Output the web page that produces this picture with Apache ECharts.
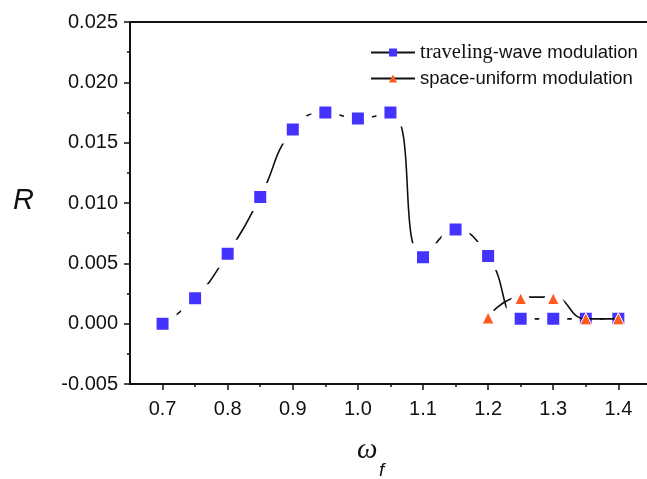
<!DOCTYPE html>
<html><head><meta charset="utf-8">
<script src="https://cdn.jsdelivr.net/npm/echarts@6/dist/echarts.min.js"></script>
<style>html,body{margin:0;padding:0;background:#fff}#c{width:647px;height:479px}</style>
</head><body><div id="c"></div>
<script>
// ---- data ----
const omegaTW = [0.70, 0.75, 0.80, 0.85, 0.90, 0.95, 1.00, 1.05, 1.10, 1.15, 1.20, 1.25, 1.30, 1.35, 1.40];
const travelingWave = [0.0000, 0.0021, 0.0058, 0.0105, 0.0161, 0.0175, 0.0170, 0.0175, 0.0055, 0.0078, 0.0056, 0.0004, 0.0004, 0.0004, 0.0004];
const omegaSU = [1.20, 1.25, 1.30, 1.35, 1.40];
const spaceUniform = [0.0006, 0.0022, 0.0022, 0.0004, 0.0004];
const xMajorTicks = [0.7, 0.8, 0.9, 1.0, 1.1, 1.2, 1.3, 1.4];
const xMinorTicks = [0.75, 0.85, 0.95, 1.05, 1.15, 1.25, 1.35];
const seriesNames = ['traveling-wave modulation', 'space-uniform modulation'];

const BLUE = '#4433ff', ORANGE = '#ff5a1f', INK = '#111';
const X_MIN = 0.65, X_MAX = 1.444;
const twData = omegaTW.map((x, i) => [x, travelingWave[i]]);
const suData = omegaSU.map((x, i) => {
  const j = omegaTW.findIndex(v => Math.abs(v - x) < 1e-9);
  const overlap = j >= 0 && Math.abs(travelingWave[j] - spaceUniform[i]) < 0.0003;
  return overlap ? { value: [x, spaceUniform[i]], symbolSize: 12, itemStyle: { borderWidth: 1 } } : [x, spaceUniform[i]];
});

const chart = echarts.init(document.getElementById('c'), null, { renderer: 'canvas' });
const axisFont = { fontFamily: 'Liberation Sans', fontSize: 20, color: INK };
chart.setOption({
  animation: false,
  backgroundColor: '#fff',
  grid: { left: 130, top: 22, right: 0, height: 362, show: false },
  legend: {
    orient: 'vertical', left: 365, top: 37, itemWidth: 44, itemHeight: 10, itemGap: 6,
    data: seriesNames,
    itemStyle: { borderWidth: 0 },
    formatter: n => n === seriesNames[0] ? '{serif|traveling}{sans|-wave modulation}' : '{sans|' + n + '}',
    textStyle: {
      color: INK, fontSize: 18.5, lineHeight: 18,
      rich: {
        serif: { fontFamily: 'Liberation Serif', fontSize: 20.5, color: INK, lineHeight: 18 },
        sans: { fontFamily: 'Liberation Sans', fontSize: 18.5, color: INK, lineHeight: 18 }
      }
    }
  },
  xAxis: [{
    type: 'value', min: X_MIN, max: X_MAX, position: 'bottom',
    axisLine: { show: true, onZero: false, lineStyle: { color: INK, width: 2 } },
    axisTick: { show: true, length: 6, customValues: xMajorTicks, lineStyle: { color: INK, width: 1.5 } },
    axisLabel: Object.assign({ margin: 15, customValues: xMajorTicks, formatter: v => v.toFixed(1) }, axisFont),
    splitLine: { show: false }
  }, {
    type: 'value', min: X_MIN, max: X_MAX, position: 'bottom',
    axisLine: { show: false, onZero: false },
    axisTick: { show: true, length: 3, customValues: xMinorTicks, lineStyle: { color: INK, width: 1.5 } },
    axisLabel: { show: false, customValues: xMinorTicks },
    splitLine: { show: false }
  }, {
    type: 'value', min: X_MIN, max: X_MAX, position: 'top',
    axisLine: { show: true, onZero: false, lineStyle: { color: INK, width: 2 } },
    axisTick: { show: false }, axisLabel: { show: false }, splitLine: { show: false }
  }],
  yAxis: {
    type: 'value', min: -0.005, max: 0.025, interval: 0.005,
    axisLine: { show: true, onZero: false, lineStyle: { color: INK, width: 2 } },
    axisTick: { show: true, length: 6, lineStyle: { color: INK, width: 1.5 } },
    minorTick: { show: true, splitNumber: 2, length: 3, lineStyle: { color: INK, width: 1.5 } },
    axisLabel: Object.assign({ margin: 12, formatter: v => v.toFixed(3) }, axisFont),
    splitLine: { show: false }, minorSplitLine: { show: false }
  },
  series: [{
    name: seriesNames[0], type: 'line', data: twData, smooth: 0.5, z: 2,
    symbol: 'rect', symbolSize: 20,
    lineStyle: { color: INK, width: 1.6 },
    itemStyle: { color: BLUE, borderColor: '#fff', borderWidth: 8 }
  }, {
    name: seriesNames[1], type: 'line', data: suData, smooth: 0.5, z: 3,
    symbol: 'triangle', symbolSize: 20,
    lineStyle: { color: INK, width: 1.6 },
    itemStyle: { color: ORANGE, borderColor: '#fff', borderWidth: 6 }
  }],
  graphic: [
    { type: 'text', left: 13, top: 186, style: { text: 'R', font: 'italic 29px "Liberation Sans"', fill: INK } },
    { type: 'text', left: 357, top: 436, style: { text: 'ω', font: 'italic 29px "Liberation Serif"', fill: INK } },
    { type: 'text', left: 379, top: 461, style: { text: 'f', font: 'italic 19px "Liberation Sans"', fill: INK } }
  ]
});
</script></body></html>
